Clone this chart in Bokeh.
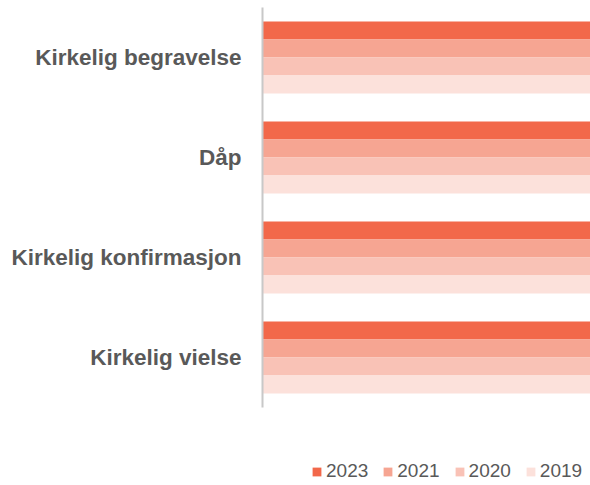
from bokeh.plotting import figure
from bokeh.models import ColumnDataSource, Legend, LegendItem, Range1d, FixedTicker
from bokeh.transform import dodge
from bokeh.embed import file_html
from bokeh.resources import INLINE

categories = ["Kirkelig begravelse", "Dåp", "Kirkelig konfirmasjon", "Kirkelig vielse"]
years = ["2023", "2021", "2020", "2019"]
v2023 = [84.0, 48.0, 54.0, 22.0]
v2021 = [86.0, 50.0, 56.0, 24.0]
v2020 = [88.0, 52.0, 58.0, 23.0]
v2019 = [89.0, 55.0, 59.0, 28.0]
colors = ["#F2684A", "#F6A592", "#F9C2B6", "#FCE1DB"]
offsets = [0.27, 0.09, -0.09, -0.27]

n = len(categories)
pos = [n - i - 0.5 for i in range(n)]  # category band centres, first category on top
src = ColumnDataSource(dict(cat=categories, pos=pos, y2023=v2023, y2021=v2021, y2020=v2020, y2019=v2019))

p = figure(width=590, height=485, output_backend="svg", toolbar_location=None,
           y_range=Range1d(-0.78, n), x_range=Range1d(0, 20), x_axis_location=None,
           min_border_left=262, min_border_right=0, min_border_top=7, min_border_bottom=0)
p.outline_line_color = None
p.grid.visible = False
p.background_fill_color = "white"
p.border_fill_color = "white"

renderers = []
for yr, col, off in zip(years, colors, offsets):
    r = p.hbar(y=dodge("pos", off), right="y" + yr, left=0, height=0.18,
               source=src, fill_color=col, line_color=None)
    renderers.append(r)

ax = p.yaxis[0]
ax.bounds = (0, n)
ax.ticker = FixedTicker(ticks=pos)
ax.major_label_overrides = {t: c for t, c in zip(pos, categories)}
ax.axis_line_color = "#C8C8C8"
ax.axis_line_width = 2
ax.major_tick_line_color = None
ax.minor_tick_line_color = None
ax.major_label_standoff = 15
ax.major_label_text_font = "Liberation Sans"
ax.major_label_text_font_style = "bold"
ax.major_label_text_font_size = "22.5px"
ax.major_label_text_color = "#595959"

legend = Legend(items=[LegendItem(label=yr, renderers=[r]) for yr, r in zip(years, renderers)],
                orientation="horizontal", location=(49, 3),
                glyph_width=11, glyph_height=11, label_standoff=4, spacing=14,
                label_text_font="Liberation Sans", label_text_font_size="19px",
                label_text_color="#595959", border_line_color=None,
                background_fill_alpha=0, padding=0, margin=0)
p.add_layout(legend, "center")

open("out.html", "w").write(file_html(p, INLINE))
